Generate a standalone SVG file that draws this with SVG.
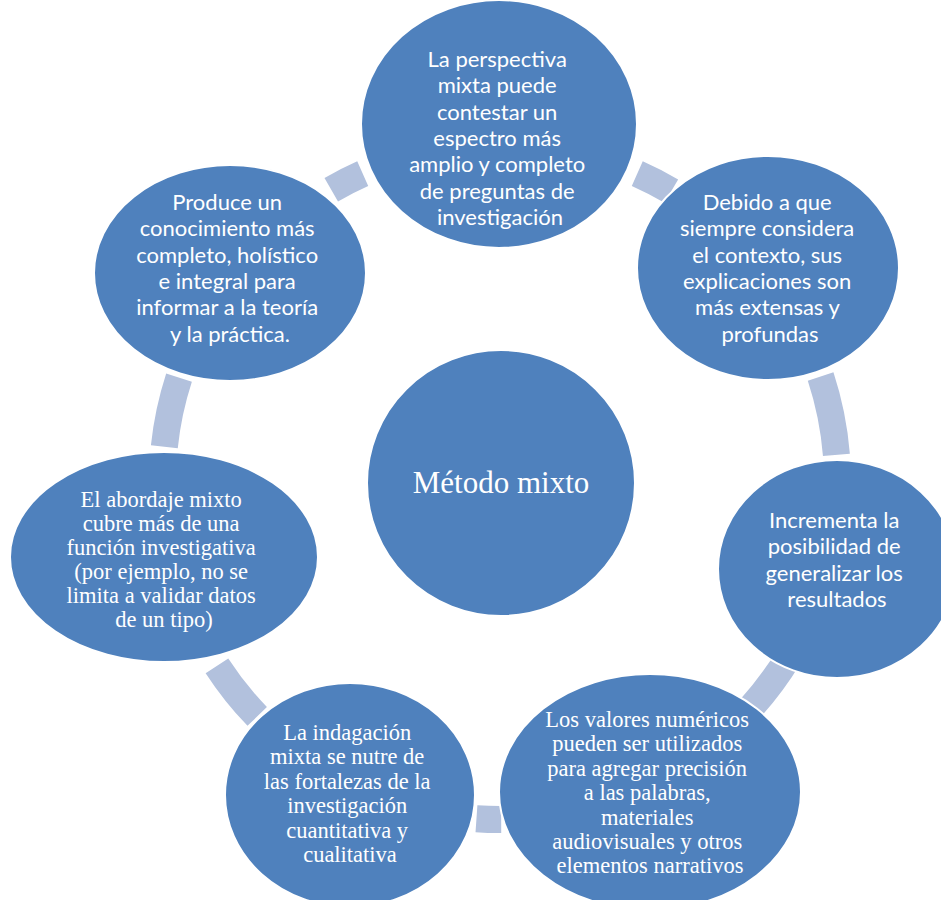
<svg xmlns="http://www.w3.org/2000/svg" width="941" height="900" viewBox="0 0 941 900">
  <style>
    .node { fill: #4F81BD; stroke: #FFFFFF; stroke-width: 2; }
    .link { fill: none; stroke: #B2C1DD; stroke-width: 27; stroke-linecap: butt; }
    .sans { font-family: Lato, "Open Sans", "Liberation Sans", sans-serif; font-size: 22px; fill: #FFFFFF; text-anchor: middle; }
    .serif { font-family: "Liberation Serif", "DejaVu Serif", serif; font-size: 22.5px; fill: #FFFFFF; text-anchor: middle; }
    .title { font-family: "Liberation Serif", "DejaVu Serif", serif; font-size: 31px; fill: #FFFFFF; text-anchor: middle; }
  </style>
  <rect width="941" height="900" fill="#FFFFFF"/>

  <!-- ring segments joining neighbouring nodes (circle centre 500,482, r 337.5) -->
  <g id="connectors">
    <path class="link" d="M331.25 189.72 A337.5 337.5 0 0 1 362.73 173.68"/>
    <path class="link" d="M637.27 173.68 A337.5 337.5 0 0 1 671.30 191.20"/>
    <path class="link" d="M820.62 376.59 A337.5 337.5 0 0 1 836.41 454.93"/>
    <path class="link" d="M789.30 655.83 A337.5 337.5 0 0 1 750.81 707.83"/>
    <path class="link" d="M501.18 819.50 A337.5 337.5 0 0 1 476.46 818.68"/>
    <path class="link" d="M257.22 716.45 A337.5 337.5 0 0 1 216.95 665.82"/>
    <path class="link" d="M164.35 446.72 A337.5 337.5 0 0 1 179.02 377.70"/>
  </g>

  <g id="node-center">
    <ellipse class="node" cx="501" cy="483" rx="134" ry="133"/>
    <text class="title" x="501" y="493">Método mixto</text>
  </g>

  <g id="node-top">
    <ellipse class="node" cx="499" cy="124" rx="138" ry="124"/>
    <text class="sans">
      <tspan x="500" y="67">La perspectiva</tspan>
      <tspan x="500" y="93.3">mixta puede</tspan>
      <tspan x="500" y="119.6">contestar un</tspan>
      <tspan x="500" y="145.9">espectro más</tspan>
      <tspan x="500" y="172.2">amplio y completo</tspan>
      <tspan x="500" y="198.5">de preguntas de</tspan>
      <tspan x="500" y="224.8">investigación</tspan>
    </text>
  </g>

  <g id="node-top-right">
    <ellipse class="node" cx="768" cy="268" rx="131" ry="112"/>
    <text class="sans">
      <tspan x="770" y="210">Debido a que</tspan>
      <tspan x="770" y="236.3">siempre considera</tspan>
      <tspan x="770" y="262.6">el contexto, sus</tspan>
      <tspan x="770" y="288.9">explicaciones son</tspan>
      <tspan x="770" y="315.2">más extensas y</tspan>
      <tspan x="770" y="341.5">profundas</tspan>
    </text>
  </g>

  <g id="node-right">
    <ellipse class="node" cx="837" cy="569" rx="119" ry="109"/>
    <text class="sans">
      <tspan x="837" y="528">Incrementa la</tspan>
      <tspan x="837" y="554.3">posibilidad de</tspan>
      <tspan x="837" y="580.6">generalizar los</tspan>
      <tspan x="837" y="606.9">resultados</tspan>
    </text>
  </g>

  <g id="node-bottom-right">
    <ellipse class="node" cx="650" cy="792" rx="151" ry="118"/>
    <text class="serif">
      <tspan x="650" y="727">Los valores numéricos</tspan>
      <tspan x="650" y="751.4">pueden ser utilizados</tspan>
      <tspan x="650" y="775.8">para agregar precisión</tspan>
      <tspan x="650" y="800.2">a las palabras,</tspan>
      <tspan x="650" y="824.6">materiales</tspan>
      <tspan x="650" y="849">audiovisuales y otros</tspan>
      <tspan x="650" y="873.4">elementos narrativos</tspan>
    </text>
  </g>

  <g id="node-bottom-left">
    <ellipse class="node" cx="350" cy="795" rx="125" ry="112"/>
    <text class="serif">
      <tspan x="350" y="740">La indagación</tspan>
      <tspan x="350" y="764.4">mixta se nutre de</tspan>
      <tspan x="350" y="788.8">las fortalezas de la</tspan>
      <tspan x="350" y="813.2">investigación</tspan>
      <tspan x="350" y="837.6">cuantitativa y</tspan>
      <tspan x="350" y="862">cualitativa</tspan>
    </text>
  </g>

  <g id="node-left">
    <ellipse class="node" cx="164" cy="557" rx="154" ry="105"/>
    <text class="serif">
      <tspan x="164" y="507">El abordaje mixto</tspan>
      <tspan x="164" y="531">cubre más de una</tspan>
      <tspan x="164" y="555">función investigativa</tspan>
      <tspan x="164" y="579">(por ejemplo, no se</tspan>
      <tspan x="164" y="603">limita a validar datos</tspan>
      <tspan x="164" y="627">de un tipo)</tspan>
    </text>
  </g>

  <g id="node-top-left">
    <ellipse class="node" cx="230" cy="273" rx="136" ry="108"/>
    <text class="sans">
      <tspan x="230" y="210">Produce un</tspan>
      <tspan x="230" y="236.3">conocimiento más</tspan>
      <tspan x="230" y="262.6">completo, holístico</tspan>
      <tspan x="230" y="288.9">e integral para</tspan>
      <tspan x="230" y="315.2">informar a la teoría</tspan>
      <tspan x="230" y="341.5">y la práctica.</tspan>
    </text>
  </g>
</svg>
